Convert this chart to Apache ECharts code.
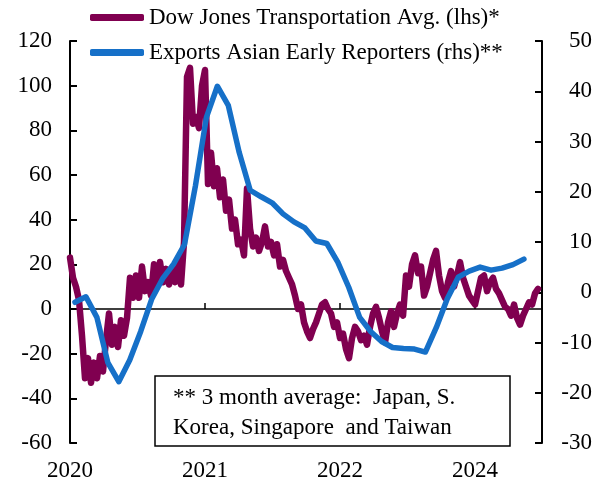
<!DOCTYPE html>
<html>
<head>
<meta charset="utf-8">
<script src="https://cdn.jsdelivr.net/npm/echarts@6/dist/echarts.min.js"></script>
<style>html,body{margin:0;padding:0;background:#fff}#c{width:601px;height:482px}</style>
</head>
<body>
<div id="c"></div>
<script>
// ---- data ----
var xTickLabels = ['2020', '2021', '2022', '2024'];
var leftTicks = { min: -60, max: 120, step: 20 };
var rightTicks = { min: -30, max: 50, step: 10 };
var seriesNames = ['Dow Jones Transportation Avg. (lhs)*', 'Exports Asian Early Reporters (rhs)**'];
var noteLines = ['** 3 month average:  Japan, S.', 'Korea, Singapore  and Taiwan'];

// Dow Jones Transportation Avg., % y/y (sampled ~ every 1/45 of a year from start of 2020)
var djtStart = 0;
var djtStep = 1 / 45;
var djtValues = [
  23, 14, 10, 4, -12, -31, -22, -33, -24, -31, -21, -28, -14, -2, -16, -8, -17, -5, -12, -4,
  14, 5, 15, 5, 19, 8, 12, 6, 20, 10, 21, 12, 18, 11, 17, 12, 22, 11, 30, 104,
  108, 83, 86, 81, 100, 107, 56, 70, 55, 63, 50, 58, 44, 49, 36, 40, 29, 31, 24, 54,
  36, 28, 32, 26, 30, 37, 28, 30, 24, 29, 19, 22, 17, 14, 11, 6, 0, 2, -6, -10,
  -13, -9, -6, -2, 2, 3, 0, -2, -8, -6, -13, -11, -18, -22, -13, -8, -10, -14, -12, -16,
  -8, -2, 1, -4, -10, -15, -6, -1, -8, -2, 2, -3, 15, 10, 20, 24, 16, 19, 6, 10,
  16, 22, 26, 15, 8, 5, 12, 17, 10, 15, 21, 14, 10, 6, 4, 2, 8, 14, 15, 8,
  12, 14, 9, 7, 4, 1, 0, -3, 2, -4, -7, -3, 0, 3, 2, 7, 9
];

// Exports Asian early reporters, 3m avg % y/y (monthly)
var expStart = 0.037;
var expStep = 0.0811;
var expValues = [
  -2.0, -0.9, -5.0, -14.0, -17.8, -13.5, -7.8, -1.4, 2.7, 5.6,
  9.5, 21.2, 34.8, 41.0, 37.2, 27.8, 20.3, 19.0, 17.8, 15.6,
  14.0, 12.8, 10.2, 9.7, 6.0, 1.0, -5.0, -7.8, -9.8, -11.0,
  -11.2, -11.3, -11.9, -7.0, -1.3, 3.0, 4.2, 5.0, 4.4, 4.8,
  5.5, 6.6
];

// ---- build ----
function pairs(start, step, vals) {
  return vals.map(function (v, i) { return [start + i * step, v]; });
}
var FONT = 'Liberation Serif';
var X_MAX = 3.496;
var purple = '#800050';
var blue = '#1670C8';

var chart = echarts.init(document.getElementById('c'), null, { renderer: 'canvas' });
chart.setOption({
  animation: false,
  backgroundColor: '#fff',
  grid: { left: 70, right: 59, top: 41, bottom: 39, containLabel: false },
  legend: {
    orient: 'vertical', left: 90, top: 6, padding: 0, itemGap: 12,
    itemWidth: 54, itemHeight: 7, icon: 'roundRect',
    textStyle: { fontFamily: FONT, fontSize: 23, color: '#000' },
    data: seriesNames
  },
  xAxis: [
    {
      type: 'value', min: 0, max: X_MAX, interval: 1, position: 'bottom',
      axisLine: { show: false, onZero: false }, axisTick: { show: false }, splitLine: { show: false },
      axisLabel: {
        fontFamily: FONT, fontSize: 23, color: '#000', margin: 16,
        formatter: function (v) {
          var r = Math.round(v);
          return Math.abs(v - r) < 1e-6 && r < xTickLabels.length ? xTickLabels[r] : '';
        }
      }
    },
    {
      type: 'value', min: 0, max: X_MAX, interval: 1, position: 'bottom',
      axisLine: { show: true, onZero: true, onZeroAxisIndex: 0, lineStyle: { color: '#000', width: 1.5 } },
      axisTick: { show: true, inside: true, length: 6, lineStyle: { color: '#000', width: 1.5 } },
      axisLabel: { show: false }, splitLine: { show: false }
    }
  ],
  yAxis: [
    {
      type: 'value', position: 'left', min: leftTicks.min, max: leftTicks.max, interval: leftTicks.step,
      axisLine: { show: true, onZero: false, lineStyle: { color: '#000', width: 2 } },
      axisTick: { show: true, inside: true, length: 7, lineStyle: { color: '#000', width: 2 } },
      splitLine: { show: false },
      axisLabel: { fontFamily: FONT, fontSize: 23, color: '#000', margin: 18 }
    },
    {
      type: 'value', position: 'right', min: rightTicks.min, max: rightTicks.max, interval: rightTicks.step,
      axisLine: { show: true, onZero: false, lineStyle: { color: '#000', width: 2 } },
      axisTick: { show: true, inside: true, length: 7, lineStyle: { color: '#000', width: 2 } },
      splitLine: { show: false },
      axisLabel: { fontFamily: FONT, fontSize: 23, color: '#000', margin: 50, align: 'right' }
    }
  ],
  series: [
    {
      name: seriesNames[0], type: 'line', xAxisIndex: 0, yAxisIndex: 0,
      data: pairs(djtStart, djtStep, djtValues), symbol: 'none', color: purple,
      lineStyle: { color: purple, width: 6.5, cap: 'round', join: 'round' }, z: 2
    },
    {
      name: seriesNames[1], type: 'line', xAxisIndex: 0, yAxisIndex: 1,
      data: pairs(expStart, expStep, expValues), symbol: 'none', color: blue,
      lineStyle: { color: blue, width: 5.5, cap: 'round', join: 'round' }, z: 3
    }
  ],
  graphic: [
    {
      type: 'group', z: 100,
      children: [
        { type: 'rect', shape: { x: 155, y: 376, width: 355, height: 70 },
          style: { fill: '#fff', stroke: '#000', lineWidth: 1.5 } },
        { type: 'text', x: 173, y: 383,
          style: { text: noteLines.join('\n'), font: '23px "' + FONT + '"', fill: '#000',
                   lineHeight: 30, verticalAlign: 'top', align: 'left' } }
      ]
    }
  ]
});
</script>
</body>
</html>
